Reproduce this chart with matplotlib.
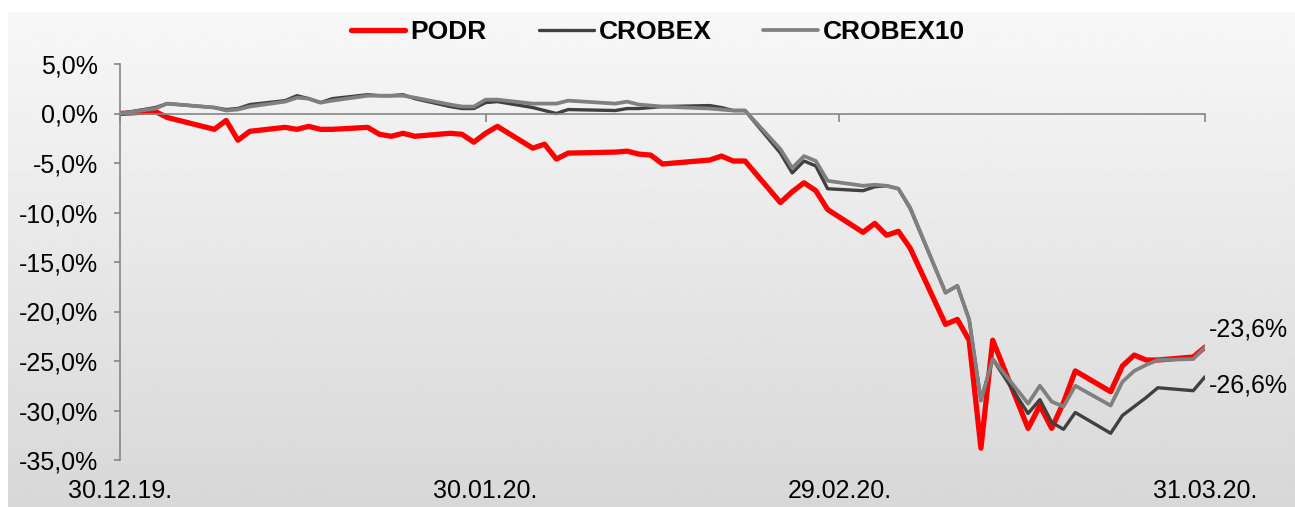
import numpy as np
import matplotlib
matplotlib.use('Agg')
import matplotlib.pyplot as plt
import matplotlib.dates as mdates
from matplotlib.ticker import FuncFormatter
import datetime as dt

plt.rcParams['font.family'] = ['Liberation Sans', 'DejaVu Sans']

# trading days (vertices)
dates = ['2019-12-30', '2020-01-02', '2020-01-03', '2020-01-07', '2020-01-08',
         '2020-01-09', '2020-01-10', '2020-01-13', '2020-01-14', '2020-01-15',
         '2020-01-16', '2020-01-17', '2020-01-20', '2020-01-21', '2020-01-22',
         '2020-01-23', '2020-01-24', '2020-01-27', '2020-01-28', '2020-01-29',
         '2020-01-30', '2020-01-31', '2020-02-03', '2020-02-04', '2020-02-05',
         '2020-02-06', '2020-02-10', '2020-02-11', '2020-02-12', '2020-02-13',
         '2020-02-14', '2020-02-18', '2020-02-19', '2020-02-20', '2020-02-21',
         '2020-02-24', '2020-02-25', '2020-02-26', '2020-02-27', '2020-02-28',
         '2020-03-02', '2020-03-03', '2020-03-04', '2020-03-05', '2020-03-06',
         '2020-03-09', '2020-03-10', '2020-03-11', '2020-03-12', '2020-03-13',
         '2020-03-16', '2020-03-17', '2020-03-18', '2020-03-19', '2020-03-20',
         '2020-03-23', '2020-03-24', '2020-03-25', '2020-03-26', '2020-03-27',
         '2020-03-30', '2020-03-31']

podr = [0.0, 0.2, -0.4, -1.6, -0.7, -2.7, -1.8, -1.4, -1.6, -1.3,
        -1.6, -1.6, -1.4, -2.1, -2.3, -2.0, -2.3, -2.0, -2.1, -2.9,
        -2.0, -1.3, -3.5, -3.1, -4.6, -4.0, -3.9, -3.8, -4.1, -4.2,
        -5.1, -4.7, -4.3, -4.8, -4.8, -9.0, -7.9, -7.0, -7.8, -9.7,
        -12.0, -11.1, -12.3, -11.9, -13.6, -21.3, -20.8, -22.9, -33.8, -22.9,
        -31.8, -29.5, -31.8, -29.2, -26.0, -28.1, -25.5, -24.4, -24.9, -24.9,
        -24.6, -23.6]

crobex = [0.0, 0.6, 1.0, 0.6, 0.4, 0.5, 0.9, 1.3, 1.8, 1.5,
          1.1, 1.5, 1.9, 1.8, 1.8, 1.9, 1.5, 0.7, 0.5, 0.5,
          1.1, 1.2, 0.6, 0.3, 0.0, 0.4, 0.3, 0.5, 0.5, 0.6,
          0.7, 0.8, 0.6, 0.3, 0.3, -4.0, -6.0, -4.8, -5.3, -7.6,
          -7.8, -7.4, -7.3, -7.6, -9.6, -18.1, -17.4, -20.8, -29.0, -24.8,
          -30.3, -28.9, -31.2, -31.9, -30.2, -32.3, -30.5, -29.6, -28.7, -27.7,
          -28.0, -26.6]

crobex10 = [0.0, 0.5, 1.0, 0.6, 0.3, 0.4, 0.7, 1.2, 1.6, 1.5,
            1.1, 1.3, 1.8, 1.8, 1.8, 1.8, 1.6, 0.9, 0.7, 0.7,
            1.4, 1.4, 1.0, 1.0, 1.0, 1.3, 1.0, 1.2, 0.9, 0.8,
            0.7, 0.5, 0.4, 0.3, 0.3, -3.6, -5.5, -4.3, -4.8, -6.8,
            -7.3, -7.2, -7.3, -7.6, -9.5, -18.1, -17.4, -20.8, -29.0, -24.8,
            -29.3, -27.5, -29.1, -29.6, -27.5, -29.5, -27.1, -26.0, -25.4, -24.9,
            -24.8, -23.6]

tick_dates = ['2019-12-30', '2020-01-30', '2020-02-29', '2020-03-31']
tick_labels = ['30.12.19.', '30.01.20.', '29.02.20.', '31.03.20.']


def to_num(ds):
    return mdates.date2num([dt.datetime.strptime(d, '%Y-%m-%d') for d in ds])


def pct(v):
    return f'{v:.1f}'.replace('.', ',') + '%'


x = to_num(dates)
xt = to_num(tick_dates)

W, H = 1295, 507
fig = plt.figure(figsize=(W / 100, H / 100), dpi=100)

# chart area background, light gradient
bg = fig.add_axes([8 / W, 0, (W - 8) / W, (H - 12) / H])
grad = np.linspace(0.97, 0.845, 256).reshape(-1, 1)
bg.imshow(grad, aspect='auto', cmap='gray', vmin=0, vmax=1)
bg.axis('off')

ax = fig.add_axes([120 / W, 1 - 460 / H, 1085 / W, 396 / H])
ax.set_facecolor('none')

l1, = ax.plot(x, podr, color='#ff0000', lw=3.8, label='PODR',
              solid_capstyle='round', solid_joinstyle='round')
l2, = ax.plot(x, crobex, color='#404040', lw=2.4, label='CROBEX',
              solid_capstyle='round', solid_joinstyle='round')
l3, = ax.plot(x, crobex10, color='#808080', lw=2.7, label='CROBEX10',
              solid_capstyle='round', solid_joinstyle='round')

ax.set_xlim(xt[0], xt[-1])
ax.set_ylim(-35, 5)

for s in ['top', 'right']:
    ax.spines[s].set_visible(False)
for s in ['left', 'bottom']:
    ax.spines[s].set_color('#868686')
    ax.spines[s].set_linewidth(1.2)
ax.spines['bottom'].set_position(('data', 0))

ax.set_yticks(np.arange(-35, 6, 5))
ax.yaxis.set_major_formatter(FuncFormatter(lambda v, p: pct(v)))
ax.tick_params(axis='y', direction='out', length=4, width=1.2, color='#868686',
               labelsize=18, pad=12)

ax.set_xticks(xt)
ax.set_xticklabels(tick_labels)
ax.tick_params(axis='x', direction='out', length=6, width=1.2, color='#868686',
               labelsize=18, pad=257)

ax.annotate(pct(podr[-1]), xy=(x[-1], podr[-1]), xytext=(4, 18), textcoords='offset pixels',
            ha='left', va='center', fontsize=18, annotation_clip=False)
ax.annotate(pct(crobex[-1]), xy=(x[-1], crobex[-1]), xytext=(4, -9), textcoords='offset pixels',
            ha='left', va='center', fontsize=18, annotation_clip=False)

fig.legend(handles=[l1, l2, l3], loc='center', bbox_to_anchor=(658 / W, 1 - 32 / H),
           ncol=3, frameon=False, prop={'weight': 'bold', 'size': 19},
           handlelength=2.08, handletextpad=0.19, columnspacing=1.97)

fig.savefig('out.png', dpi=100)
